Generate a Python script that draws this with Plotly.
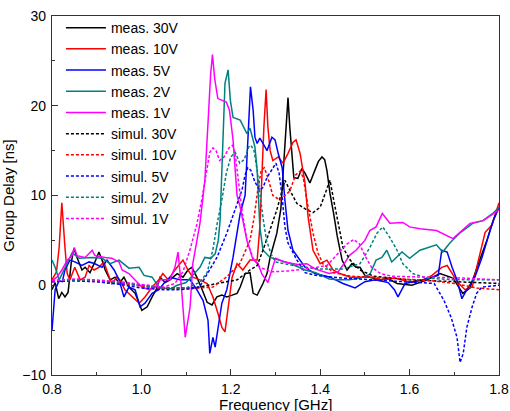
import plotly.graph_objects as go

# ---- data: (frequency GHz, group delay ns) ----
meas30 = [(0.800,-0.5),(0.807,0.3),(0.815,-1.5),(0.822,-0.8),(0.829,-1.3),(0.836,-0.8),(0.843,2.5),(0.849,4.1),(0.856,3.1),(0.867,1.7),(0.874,2.0),(0.885,1.4),(0.896,2.6),(0.905,3.7),(0.912,2.8),(0.919,1.7),(0.930,0.6),(0.941,0.9),(0.950,0.2),(0.961,0.9),(0.972,-0.2),(0.986,-0.9),(1.001,-2.8),(1.013,-2.4),(1.024,-1.3),(1.033,-0.5),(1.042,0.9),(1.053,0.3),(1.064,0.6),(1.080,1.3),(1.093,0.9),(1.104,1.7),(1.113,2.0),(1.124,0.9),(1.136,-0.5),(1.147,-1.9),(1.158,-2.2),(1.169,-1.3),(1.180,-1.1),(1.191,-1.3),(1.203,-1.1),(1.214,-0.9),(1.221,-0.2),(1.232,1.3),(1.243,1.4),(1.250,-0.9),(1.259,-1.1),(1.272,0.2),(1.281,1.3),(1.288,3.1),(1.303,5.8),(1.312,8.5),(1.317,12.5),(1.322,16.0),(1.326,19.0),(1.328,20.9),(1.332,17.6),(1.341,12.0),(1.350,11.9),(1.359,13.0),(1.366,12.5),(1.377,11.4),(1.388,12.8),(1.396,13.8),(1.404,14.3),(1.410,14.0),(1.415,12.8),(1.422,10.2),(1.430,8.0),(1.438,5.5),(1.449,2.8),(1.460,1.7),(1.471,2.4),(1.480,2.0),(1.489,2.0),(1.500,1.1),(1.511,0.9),(1.534,0.6),(1.550,0.8),(1.572,0.2),(1.605,0.0),(1.639,0.6),(1.668,1.3),(1.697,0.8),(1.719,-0.9),(1.735,-0.3),(1.751,2.0),(1.773,5.0),(1.787,7.2),(1.800,8.7)]

meas10 = [(0.800,0.6),(0.810,1.5),(0.816,4.2),(0.822,9.2),(0.829,4.2),(0.834,1.3),(0.840,0.6),(0.851,2.0),(0.863,0.6),(0.874,0.9),(0.883,2.2),(0.894,1.7),(0.905,2.0),(0.916,2.6),(0.928,0.9),(0.934,0.2),(0.945,0.9),(0.952,0.6),(0.963,-0.5),(0.979,-1.3),(0.995,-2.0),(1.008,-1.3),(1.024,-0.2),(1.039,0.6),(1.048,1.3),(1.060,0.6),(1.075,1.7),(1.093,2.8),(1.104,1.7),(1.115,0.9),(1.131,0.6),(1.147,0.2),(1.160,-1.3),(1.171,-3.1),(1.180,-4.7),(1.187,-5.2),(1.194,-2.4),(1.203,0.9),(1.214,2.4),(1.227,1.7),(1.243,2.8),(1.259,2.8),(1.265,6.5),(1.270,12.8),(1.274,17.6),(1.279,21.8),(1.283,17.6),(1.288,15.0),(1.294,13.9),(1.306,14.3),(1.317,13.6),(1.328,14.7),(1.339,15.9),(1.346,16.2),(1.355,14.7),(1.366,11.4),(1.373,7.6),(1.384,3.9),(1.400,2.4),(1.415,2.8),(1.429,1.7),(1.444,1.3),(1.467,0.9),(1.489,0.9),(1.516,0.9),(1.540,0.6),(1.567,0.8),(1.605,0.3),(1.630,0.6),(1.650,1.1),(1.665,1.7),(1.672,2.0),(1.684,2.2),(1.695,1.3),(1.708,0.3),(1.724,-0.5),(1.740,-0.2),(1.753,2.6),(1.769,5.9),(1.784,6.7),(1.800,9.2)]

meas5 = [(0.800,-5.0),(0.804,-2.5),(0.807,-0.5),(0.816,0.5),(0.823,0.4),(0.829,1.7),(0.840,2.8),(0.851,2.6),(0.867,2.2),(0.883,2.6),(0.896,2.4),(0.912,2.0),(0.923,2.8),(0.939,1.7),(0.950,0.6),(0.961,-1.3),(0.972,-0.2),(0.986,-0.5),(0.997,-2.4),(1.008,-2.0),(1.024,-0.9),(1.039,-0.5),(1.050,0.2),(1.064,0.9),(1.086,0.6),(1.109,0.6),(1.124,-0.5),(1.138,-1.7),(1.149,-3.9),(1.153,-7.6),(1.160,-5.8),(1.165,-6.9),(1.171,-4.7),(1.180,-2.0),(1.191,-0.5),(1.205,3.1),(1.221,8.0),(1.232,10.0),(1.239,17.0),(1.244,22.1),(1.250,19.5),(1.254,16.5),(1.259,15.8),(1.265,16.4),(1.272,15.8),(1.281,15.0),(1.292,16.5),(1.299,16.2),(1.306,14.7),(1.315,13.1),(1.321,9.5),(1.328,6.1),(1.339,3.9),(1.350,3.1),(1.366,2.0),(1.388,1.3),(1.422,0.9),(1.451,0.2),(1.478,-0.3),(1.500,0.4),(1.523,0.6),(1.552,0.3),(1.566,-0.5),(1.574,-1.3),(1.590,0.2),(1.628,0.6),(1.664,1.1),(1.672,3.9),(1.684,3.7),(1.695,2.0),(1.706,0.6),(1.717,-1.5),(1.728,-0.5),(1.746,0.9),(1.762,3.1),(1.780,6.1),(1.790,7.6),(1.800,8.7)]

meas2 = [(0.800,2.8),(0.807,2.0),(0.816,0.6),(0.827,1.7),(0.838,2.8),(0.845,3.6),(0.861,3.0),(0.890,3.1),(0.912,3.0),(0.930,2.4),(0.950,2.8),(0.972,1.9),(0.995,2.0),(1.006,1.1),(1.024,0.9),(1.039,-0.2),(1.050,-0.3),(1.065,-0.4),(1.080,0.0),(1.100,0.3),(1.120,1.4),(1.131,2.0),(1.142,3.1),(1.155,3.0),(1.165,3.5),(1.172,5.0),(1.176,7.2),(1.182,15.0),(1.187,22.5),(1.194,24.0),(1.199,20.6),(1.205,18.7),(1.221,18.4),(1.236,16.9),(1.243,17.5),(1.254,15.4),(1.259,12.8),(1.265,6.5),(1.272,3.9),(1.288,3.1),(1.310,2.8),(1.335,2.4),(1.366,1.7),(1.390,1.4),(1.420,0.7),(1.440,0.6),(1.465,0.6),(1.490,0.8),(1.511,1.2),(1.525,2.8),(1.538,3.1),(1.549,3.9),(1.560,2.6),(1.583,3.7),(1.600,3.0),(1.623,3.9),(1.660,4.5),(1.674,3.7),(1.690,4.7),(1.712,5.8),(1.728,6.4),(1.741,6.9),(1.764,7.2),(1.786,8.0),(1.800,8.7)]

meas1 = [(0.800,0.5),(0.811,0.9),(0.822,1.7),(0.834,2.8),(0.845,3.3),(0.850,4.2),(0.856,3.3),(0.874,3.1),(0.890,3.9),(0.896,3.3),(0.919,3.1),(0.934,3.0),(0.950,2.6),(0.957,1.7),(0.972,1.3),(0.986,0.6),(1.001,-0.2),(1.017,-0.5),(1.031,-0.2),(1.042,0.6),(1.064,0.6),(1.075,2.0),(1.082,3.7),(1.090,-0.5),(1.098,-5.8),(1.109,-2.4),(1.115,2.4),(1.131,6.9),(1.142,11.7),(1.150,19.0),(1.155,23.6),(1.159,25.7),(1.164,23.0),(1.171,20.8),(1.180,20.6),(1.190,20.4),(1.197,19.5),(1.205,16.2),(1.214,10.0),(1.221,8.7),(1.236,5.0),(1.250,2.8),(1.260,2.5),(1.270,1.2),(1.283,0.3),(1.290,1.5),(1.300,3.0),(1.320,2.6),(1.350,2.3),(1.370,2.4),(1.390,1.8),(1.420,1.3),(1.440,1.5),(1.455,2.5),(1.465,3.3),(1.480,3.9),(1.500,5.0),(1.511,6.1),(1.525,6.5),(1.539,8.0),(1.556,6.9),(1.585,7.0),(1.600,6.5),(1.623,6.3),(1.660,6.1),(1.697,5.2),(1.735,6.9),(1.765,7.2),(1.787,8.0),(1.800,8.4)]

sim30 = [(0.800,0.5),(0.850,0.6),(0.900,0.5),(0.950,0.3),(1.000,0.0),(1.050,-0.3),(1.100,-0.3),(1.131,-0.2),(1.169,0.2),(1.214,0.6),(1.243,1.7),(1.259,2.2),(1.272,3.9),(1.288,6.1),(1.303,8.4),(1.315,10.6),(1.321,11.7),(1.332,10.6),(1.348,9.1),(1.370,8.4),(1.384,8.1),(1.400,8.7),(1.415,10.6),(1.422,11.7),(1.429,9.8),(1.440,6.9),(1.451,4.2),(1.467,2.8),(1.489,1.7),(1.520,1.0),(1.600,0.6),(1.700,0.4),(1.800,0.2)]

sim10 = [(0.800,0.4),(0.850,0.5),(0.900,0.4),(0.950,0.2),(1.000,-0.1),(1.050,-0.4),(1.100,-0.4),(1.140,-0.3),(1.160,-0.2),(1.190,0.9),(1.220,2.4),(1.243,5.0),(1.252,7.5),(1.260,10.5),(1.268,12.8),(1.275,13.1),(1.283,12.0),(1.294,10.0),(1.310,9.5),(1.332,10.5),(1.345,12.3),(1.355,12.7),(1.362,12.0),(1.373,8.7),(1.384,5.8),(1.395,3.6),(1.406,2.4),(1.430,1.4),(1.470,1.0),(1.550,0.8),(1.650,0.5),(1.700,0.2),(1.750,-0.3),(1.800,-0.5)]

sim5 = [(0.800,0.4),(0.850,0.5),(0.900,0.4),(0.950,0.1),(1.000,-0.3),(1.050,-0.5),(1.080,-0.5),(1.110,-0.4),(1.130,-0.2),(1.147,1.3),(1.169,3.1),(1.191,5.8),(1.209,8.4),(1.225,10.6),(1.232,12.3),(1.238,13.1),(1.245,12.8),(1.254,11.5),(1.265,10.6),(1.272,10.9),(1.281,12.0),(1.292,12.8),(1.301,13.6),(1.308,12.5),(1.315,9.8),(1.321,6.5),(1.328,4.7),(1.348,2.8),(1.366,1.4),(1.390,1.1),(1.450,0.8),(1.550,0.5),(1.620,0.3),(1.655,0.2),(1.677,-1.7),(1.693,-3.6),(1.706,-5.8),(1.713,-8.6),(1.720,-7.6),(1.728,-4.7),(1.740,-2.4),(1.750,-0.9),(1.762,-0.2),(1.800,0.0)]

sim2 = [(0.800,0.5),(0.850,0.6),(0.900,0.5),(0.950,0.3),(1.000,0.0),(1.050,-0.3),(1.100,-0.3),(1.130,0.3),(1.147,1.4),(1.160,4.0),(1.170,7.0),(1.180,9.5),(1.190,12.5),(1.200,14.3),(1.210,14.8),(1.220,13.6),(1.230,14.0),(1.240,15.4),(1.245,15.6),(1.252,15.0),(1.259,12.8),(1.265,10.2),(1.272,7.5),(1.280,5.0),(1.290,3.5),(1.300,2.6),(1.340,2.2),(1.400,1.8),(1.450,1.8),(1.489,2.4),(1.511,4.2),(1.527,5.8),(1.540,6.5),(1.556,5.3),(1.572,3.9),(1.585,2.4),(1.607,1.3),(1.639,0.8),(1.700,0.6),(1.800,0.6)]

sim1 = [(0.800,0.5),(0.850,0.7),(0.900,0.6),(0.950,0.4),(1.000,0.1),(1.050,-0.2),(1.075,0.2),(1.093,1.5),(1.109,4.0),(1.124,6.8),(1.135,9.5),(1.145,12.5),(1.153,14.8),(1.160,15.3),(1.167,15.0),(1.175,13.9),(1.185,14.3),(1.196,15.3),(1.204,15.6),(1.210,14.5),(1.218,11.0),(1.226,8.0),(1.236,5.0),(1.250,3.0),(1.265,2.0),(1.290,1.5),(1.330,1.6),(1.380,1.9),(1.415,2.2),(1.440,3.5),(1.460,4.6),(1.475,5.1),(1.488,4.6),(1.500,3.3),(1.515,2.0),(1.535,1.3),(1.560,1.0),(1.640,0.9),(1.720,0.8),(1.800,0.6)]

x_title = "Frequency [GHz]"
y_title = "Group Delay [ns]"

series = [
    ("meas. 30V", meas30, "#000000", "solid"),
    ("meas. 10V", meas10, "#FF0000", "solid"),
    ("meas. 5V", meas5, "#0000FF", "solid"),
    ("meas. 2V", meas2, "#008080", "solid"),
    ("meas. 1V", meas1, "#FF00FF", "solid"),
    ("simul. 30V", sim30, "#000000", "3px,2px"),
    ("simul. 10V", sim10, "#FF0000", "3px,2px"),
    ("simul. 5V", sim5, "#0000FF", "3px,2px"),
    ("simul. 2V", sim2, "#008080", "3px,2px"),
    ("simul. 1V", sim1, "#FF00FF", "3px,2px"),
]

fig = go.Figure()
for name, pts, color, dash in series:
    fig.add_trace(go.Scatter(
        x=[p[0] for p in pts], y=[p[1] for p in pts],
        mode="lines", name=name,
        line=dict(color=color, width=1.5, dash=dash),
    ))

axis_common = dict(
    showline=True, linecolor="#333333", linewidth=1.3, mirror=True,
    showgrid=False, zeroline=False,
    ticks="inside", ticklen=6, tickwidth=1.2, tickcolor="#333333",
    tickfont=dict(size=14, color="black"),
)

fig.update_layout(
    width=510, height=411,
    margin=dict(l=52, r=11, t=16, b=36),
    paper_bgcolor="white", plot_bgcolor="white",
    font=dict(family="Liberation Sans, Arial, sans-serif", size=14, color="black"),
    showlegend=True,
    legend=dict(x=0.02, y=1.011, xanchor="left", yanchor="top",
                bgcolor="rgba(0,0,0,0)", font=dict(size=14), itemwidth=40,
                tracegroupgap=0, maxheight=400),
    xaxis=dict(range=[0.8, 1.8], dtick=0.2, tick0=0.8, tickformat=".1f",
               minor=dict(dtick=0.1, ticks="inside", ticklen=3, tickcolor="#333333"),
               automargin=False, ticklabelstandoff=1, **axis_common),
    yaxis=dict(range=[-10, 30], dtick=10, tick0=0,
               minor=dict(dtick=5, ticks="inside", ticklen=3, tickcolor="#333333"),
               title=dict(text=y_title, standoff=8, font=dict(size=15)),
               automargin=False, ticklabelstandoff=2, **axis_common),
    annotations=[dict(text=x_title, xref="paper", yref="paper", x=0.5, y=0,
                      xanchor="center", yanchor="top", yshift=-19,
                      showarrow=False, font=dict(size=15, color="black"))],
)

fig.write_html("out.html", config={"displayModeBar": False},
               post_script="document.body.style.margin='0';")
